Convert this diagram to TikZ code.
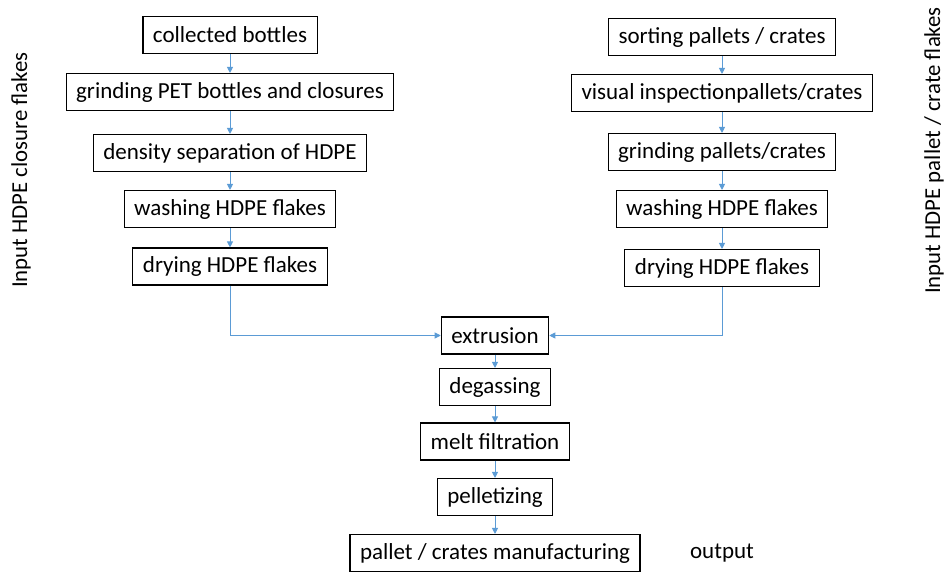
\documentclass[tikz,border=0pt]{standalone}
\usepackage{fontspec}
\setmainfont{Carlito}
\usetikzlibrary{arrows.meta}
\begin{document}
\begin{tikzpicture}[x=1pt,y=-1pt,
  stepbox/.style={draw=black,line width=1.1pt,minimum height=37pt,inner xsep=10pt,inner ysep=0pt,font=\fontsize{23}{27}\selectfont},
  lbl/.style={font=\fontsize{23}{27}\selectfont,inner sep=0pt},
  side/.style={font=\fontsize{22.8}{27}\selectfont,inner sep=0pt,rotate=90,anchor=base west},
  arr/.style={draw={rgb,255:red,91;green,155;blue,213},line width=0.9pt,-{Triangle[length=6pt,width=6pt]}}]
\useasboundingbox (0,0) rectangle (949,572);
% left column
\node[stepbox] (l1) at (230,35) {collected bottles};
\node[stepbox] (l2) at (230,92) {grinding PET bottles and closures};
\node[stepbox] (l3) at (230,153) {density separation of HDPE};
\node[stepbox] (l4) at (230,209) {washing HDPE flakes};
\node[stepbox] (l5) at (230,266.5) {drying HDPE flakes};
% right column
\node[stepbox] (r1) at (722,37) {sorting pallets / crates};
\node[stepbox] (r2) at (722,93) {visual inspectionpallets/crates};
\node[stepbox] (r3) at (722,152) {grinding pallets/crates};
\node[stepbox] (r4) at (722,209) {washing HDPE flakes};
\node[stepbox] (r5) at (722,268) {drying HDPE flakes};
% center column
\node[stepbox] (c1) at (495,335.5) {extrusion};
\node[stepbox] (c2) at (495,387) {degassing};
\node[stepbox] (c3) at (495,441.5) {melt filtration};
\node[stepbox] (c4) at (495,497) {pelletizing};
\node[stepbox] (c5) at (495,553) {pallet / crates manufacturing};
\node[lbl] (out) at (722,553) {output};
% side labels
\node[side] (inl) at (27,288) {Input HDPE closure flakes};
\node[side] (inr) at (940,294) {Input HDPE pallet / crate flakes};
% connectors
\draw[arr] (l1) -- (l2);
\draw[arr] (l2) -- (l3);
\draw[arr] (l3) -- (l4);
\draw[arr] (l4) -- (l5);
\draw[arr] (r1) -- (r2);
\draw[arr] (r2) -- (r3);
\draw[arr] (r3) -- (r4);
\draw[arr] (r4) -- (r5);
\draw[arr] (l5.south) |- (c1.west);
\draw[arr] (r5.south) |- (c1.east);
\draw[arr] (c1) -- (c2);
\draw[arr] (c2) -- (c3);
\draw[arr] (c3) -- (c4);
\draw[arr] (c4) -- (c5);
\end{tikzpicture}
\end{document}
